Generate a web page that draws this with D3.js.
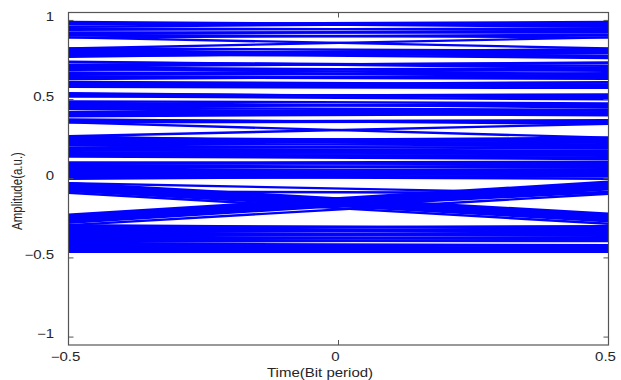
<!DOCTYPE html>
<html>
<head>
<meta charset="utf-8">
<script src="https://cdn.jsdelivr.net/npm/d3@7"></script>
<style>
  body { margin: 0; background: #fff; }
  text { font-family: "Liberation Sans", Arial, sans-serif; fill: #262626; }
</style>
</head>
<body>
<div id="chart"></div>
<script>
// amplitude of every trace at the left edge (t = -0.5) and right edge (t = +0.5)
const traceStart = [
  0.99, 0.975, 0.95, 0.924, 0.909, 0.893, 0.985, 0.96, 0.94, 0.915,
  0.893, 0.823,
  0.823, 0.808, 0.792, 0.776, 0.815, 0.77, 0.80, 0.785,
  0.735, 0.719, 0.703, 0.688, 0.672, 0.656, 0.640, 0.74, 0.71, 0.695, 0.665, 0.645, 0.63,
  0.612, 0.596, 0.580, 0.580, 0.605, 0.588,
  0.536, 0.520, 0.520, 0.53, 0.54,
  0.489, 0.467, 0.448, 0.48, 0.455, 0.44,
  0.420, 0.401, 0.420, 0.41, 0.395,
  0.375, 0.356, 0.37, 0.36,
  0.356, 0.268,
  0.252, 0.237, 0.221, 0.268, 0.189, 0.167, 0.151, 0.151, 0.237,
  0.26, 0.245, 0.228, 0.21, 0.195, 0.18, 0.16, 0.145, 0.14,
  0.101, 0.101, 0.073, 0.054, 0.038, 0.022, 0.006,
  0.095, 0.085, 0.065, 0.045, 0.03, 0.015, 0.0,
  -0.028, -0.044, -0.060, -0.076, -0.088, -0.035, -0.052, -0.07,
  -0.227, -0.243, -0.259, -0.278, -0.259, -0.235, -0.25, -0.27,
  -0.028, -0.293, -0.08,
  -0.293, -0.309, -0.328, -0.347, -0.375, -0.391, -0.416, -0.432, -0.448, -0.461, -0.309,
  -0.30, -0.318, -0.34, -0.355, -0.365, -0.383, -0.40, -0.41, -0.425, -0.44, -0.455
]
const traceEnd = [
  0.97, 0.99, 0.94, 0.924, 0.893, 0.909, 0.96, 0.985, 0.95, 0.935,
  0.823, 0.893,
  0.808, 0.776, 0.763, 0.792, 0.77, 0.815, 0.80, 0.82,
  0.713, 0.729, 0.681, 0.697, 0.650, 0.666, 0.631, 0.70, 0.735, 0.66, 0.69, 0.64, 0.65,
  0.596, 0.574, 0.596, 0.574, 0.585, 0.61,
  0.517, 0.533, 0.502, 0.525, 0.51,
  0.476, 0.461, 0.435, 0.45, 0.47, 0.41,
  0.435, 0.420, 0.401, 0.43, 0.41,
  0.347, 0.363, 0.355, 0.37,
  0.259, 0.347,
  0.243, 0.227, 0.211, 0.196, 0.177, 0.161, 0.145, 0.132, 0.259,
  0.235, 0.215, 0.25, 0.19, 0.20, 0.165, 0.17, 0.15, 0.125,
  0.107, 0.091, 0.076, 0.060, 0.044, 0.028, 0.016,
  0.10, 0.07, 0.085, 0.05, 0.035, 0.0, 0.02,
  -0.221, -0.237, -0.252, -0.268, -0.284, -0.228, -0.245, -0.26,
  -0.019, -0.035, -0.050, -0.066, -0.082, -0.027, -0.043, -0.058,
  -0.095, -0.095, -0.09,
  -0.315, -0.300, -0.331, -0.347, -0.375, -0.394, -0.426, -0.445, -0.461, -0.461, -0.331,
  -0.31, -0.34, -0.32, -0.36, -0.38, -0.37, -0.385, -0.42, -0.435, -0.45, -0.45
]
const xTicks = [-0.5, 0, 0.5]
const yTicks = [-1, -0.5, 0, 0.5, 1]

const width = 621, height = 380
const plot = {left: 68.5, right: 608.5, top: 12.5, bottom: 345}
const stretch = 1.25 // the picture is wider than tall, text looks stretched

const svg = d3.select("#chart").append("svg")
  .attr("width", width)
  .attr("height", height)

const x = d3.scaleLinear().domain([-0.5, 0.5]).range([plot.left, plot.right])
const y = d3.scaleLinear().domain([-1.05, 1.05]).range([plot.bottom, plot.top])

svg.append("defs").append("clipPath").attr("id", "plotclip")
  .append("rect")
  .attr("x", plot.left).attr("y", plot.top)
  .attr("width", plot.right - plot.left).attr("height", plot.bottom - plot.top)

const traces = traceStart.map((s, i) => [[-0.5, s], [0.5, traceEnd[i]]])
const line = d3.line().x(d => x(d[0])).y(d => y(d[1]))

svg.append("g")
  .attr("clip-path", "url(#plotclip)")
  .selectAll("path")
  .data(traces)
  .enter().append("path")
  .attr("d", line)
  .attr("fill", "none")
  .attr("stroke", "#0000ff")
  .attr("stroke-width", 2.4)

// box
svg.append("rect")
  .attr("x", plot.left).attr("y", plot.top)
  .attr("width", plot.right - plot.left).attr("height", plot.bottom - plot.top)
  .attr("fill", "none")
  .attr("stroke", "#555")
  .attr("stroke-width", 1.2)

// inward ticks on all four sides
const tickLen = 5
const axisStroke = "#555"
svg.append("g").selectAll("line.yl").data(yTicks).enter().append("line")
  .attr("x1", plot.left).attr("x2", plot.left + tickLen)
  .attr("y1", d => y(d)).attr("y2", d => y(d))
  .attr("stroke", axisStroke)
svg.append("g").selectAll("line.yr").data(yTicks).enter().append("line")
  .attr("x1", plot.right).attr("x2", plot.right - tickLen)
  .attr("y1", d => y(d)).attr("y2", d => y(d))
  .attr("stroke", axisStroke)
svg.append("g").selectAll("line.xb").data(xTicks).enter().append("line")
  .attr("x1", d => x(d)).attr("x2", d => x(d))
  .attr("y1", plot.bottom).attr("y2", plot.bottom - tickLen)
  .attr("stroke", axisStroke)
svg.append("g").selectAll("line.xt").data(xTicks).enter().append("line")
  .attr("x1", d => x(d)).attr("x2", d => x(d))
  .attr("y1", plot.top).attr("y2", plot.top + tickLen)
  .attr("stroke", axisStroke)

// tick labels
svg.append("g").selectAll("text").data(yTicks).enter().append("text")
  .attr("transform", d => "translate(54," + (y(d) - 3) + ") scale(" + stretch + ",1)")
  .attr("text-anchor", "end")
  .attr("dominant-baseline", "central")
  .style("font-size", "12px")
  .text(d => d3.format("")(d))

svg.append("g").selectAll("text").data(xTicks).enter().append("text")
  .attr("transform", d => "translate(" + (x(d) - 3) + ",361) scale(" + stretch + ",1)")
  .attr("text-anchor", "middle")
  .style("font-size", "12px")
  .text(d => d3.format("")(d))

// axis titles
svg.append("text")
  .attr("transform", "translate(320,377) scale(" + stretch + ",1)")
  .attr("text-anchor", "middle")
  .style("font-size", "12px")
  .text("Time(Bit period)")

svg.append("text")
  .attr("transform", "translate(22,191) scale(" + stretch + ",1) rotate(-90)")
  .attr("text-anchor", "middle")
  .style("font-size", "11.5px")
  .text("Amplitude(a.u.)")
</script>
</body>
</html>
